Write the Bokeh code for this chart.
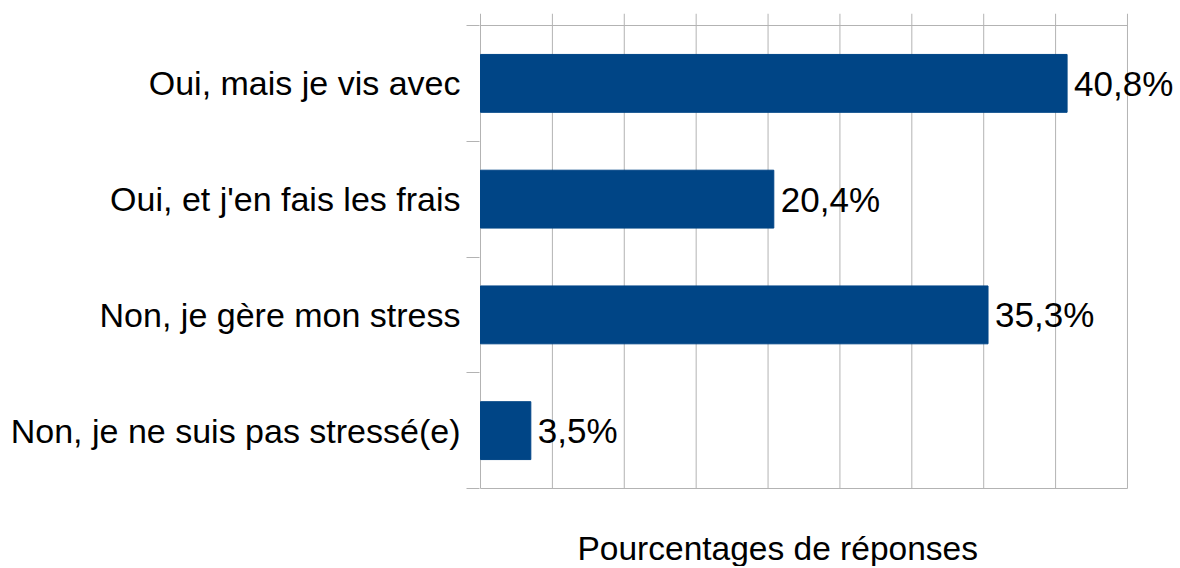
from bokeh.plotting import figure
from bokeh.models import Range1d, FixedTicker, Title, ColumnDataSource
from bokeh.core.properties import value
from bokeh.embed import file_html
from bokeh.resources import INLINE

categories = ["Oui, mais je vis avec", "Oui, et j'en fais les frais",
              "Non, je gère mon stress", "Non, je ne suis pas stressé(e)"]
percentages = [40.8, 20.4, 35.3, 3.5]
x_ticks = [0, 5, 10, 15, 20, 25, 30, 35, 40, 45]
axis_title = "Pourcentages de réponses"

n = len(categories)
ypos = [n - 0.5 - i for i in range(n)]          # first category on top
labels = [f"{v:.1f}".replace(".", ",") + "%" for v in percentages]

FONT = "Liberation Sans"
GRID = "#b3b3b3"
BAR = "#004586"

Y_TOP = n + 0.1037      # gridlines overshoot the top boundary a little

src = ColumnDataSource(dict(y=ypos, v=percentages, lab=labels))

p = figure(width=1176, height=566, output_backend="svg", toolbar_location=None,
           x_range=Range1d(-0.07, 48.41), y_range=Range1d(-0.3369, Y_TOP),
           min_border_left=479, min_border_right=0, min_border_top=13,
           min_border_bottom=39)
p.outline_line_color = None
p.background_fill_color = "white"
p.border_fill_color = "white"
p.xaxis.visible = False
p.xgrid.visible = False
p.ygrid.visible = False

# vertical gridlines
p.segment(x0=x_ticks, x1=x_ticks, y0=[0] * len(x_ticks), y1=[Y_TOP] * len(x_ticks),
          line_color=GRID, line_width=1)
# top and bottom boundary lines of the plot area
p.segment(x0=[x_ticks[0]] * 2, x1=[x_ticks[-1]] * 2, y0=[0, n], y1=[0, n],
          line_color=GRID, line_width=1)

p.hbar(y="y", right="v", left=0, height=0.5, source=src,
       fill_color=BAR, line_color=BAR)

p.text(x="v", y="y", text="lab", source=src, x_offset=7,
       text_baseline="middle", text_align="left",
       text_font=value(FONT), text_font_size="35px", text_color="black")

# y axis: category labels at centres, boundary tick marks
yax = p.yaxis[0]
yax.ticker = FixedTicker(ticks=ypos, minor_ticks=list(range(n + 1)))
yax.major_label_overrides = {y: c for y, c in zip(ypos, categories)}
yax.major_tick_out = 0
yax.major_tick_in = 0
yax.minor_tick_out = 13
yax.minor_tick_in = 0
yax.minor_tick_line_color = GRID
yax.axis_line_color = None
yax.major_label_standoff = 6
yax.major_label_text_font = FONT
yax.major_label_text_font_size = "34px"
yax.major_label_text_color = "black"

p.add_layout(Title(text=axis_title, align="left", offset=98, standoff=0,
                   vertical_align="bottom",
                   text_font=FONT, text_font_size="33.5px",
                   text_font_style="normal", text_color="black"), "below")

open("out.html", "w").write(file_html(p, INLINE))
